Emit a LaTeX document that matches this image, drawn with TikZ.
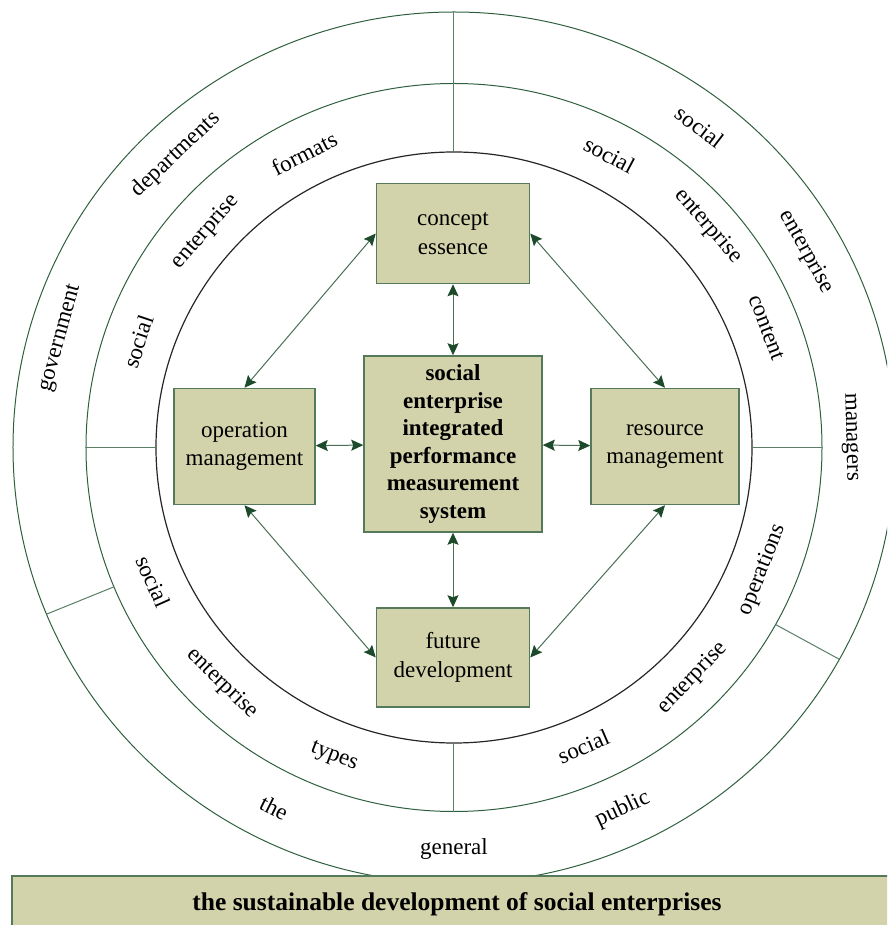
\documentclass[tikz,border=0pt]{standalone}
\usepackage{fontspec}
\setmainfont{Liberation Serif}
\usepackage{tikz}
\usetikzlibrary{arrows.meta}
\usepackage{xcolor}

\definecolor{boxfill}{HTML}{D2D3AB}
\definecolor{boxline}{HTML}{557A5B}
\definecolor{ringgreen}{HTML}{2F5F3F}
\definecolor{arrowgreen}{HTML}{1C4A2A}

\begin{document}
\begin{tikzpicture}[
    x=1pt, y=1pt,
    >={Stealth[length=12pt, width=11pt, inset=2pt, color=arrowgreen]},
    box/.style={draw=boxline, line width=1.5pt, fill=boxfill, inner sep=0pt, align=center, font=\fontsize{23}{28.5}\selectfont},
    corebox/.style={box, font=\fontsize{23}{27.6}\selectfont\bfseries},
    ring/.style={draw=ringgreen, line width=1pt},
    innerring/.style={draw=black!85, line width=1.2pt},
    divider/.style={draw=ringgreen!80, line width=1pt},
    word/.style={inner sep=0pt, font=\fontsize{23}{28}\selectfont},
    arrow/.style={<->, draw=arrowgreen!80, line width=1pt}
]
\useasboundingbox (-454,-477.5) rectangle (433,447.5);
\clip (-454,-477.5) rectangle (433,447.5);

% rings
\draw[ring] (0,0) ellipse [x radius=441, y radius=435.5];
\draw[ring] (0,0) ellipse [x radius=368, y radius=364];
\draw[innerring] (0,0) ellipse [x radius=298, y radius=295.5];

% ring dividers
\draw[divider] (-0.5,435.5) -- (-0.5,295.5);
\draw[divider] (-0.5,-295.5) -- (-0.5,-364);
\draw[divider] (-368,0) -- (-298,0);
\draw[divider] (298,0) -- (368,0);
\draw[divider] (202.5:368 and 364) -- (202.5:441 and 435.5);
\draw[divider] (-29.1:368 and 364) -- (-29.1:441 and 435.5);

% outer ring words
\node[word, rotate=74.5] (gov) at (164.5:408) {government};
\node[word, rotate=43.5] (dep) at (133.5:404) {departments};
\node[word, rotate=-37.5] (os1) at (52.5:404) {social};
\node[word, rotate=-61] (oe1) at (29:403) {enterprise};
\node[word, rotate=-88.5] (mgr) at (1.5:396) {managers};
\node[word, rotate=-26.5] (the) at (243.5:403) {the};
\node[word] (gen) at (270:401) {general};
\node[word, rotate=25] (pub) at (295:399) {public};

% middle ring words
\node[word, rotate=71.5] (ms1) at (161.5:333) {social};
\node[word, rotate=49] (me1) at (139:329) {enterprise};
\node[word, rotate=27] (fmt) at (117:330) {formats};
\node[word, rotate=-28] (ms2) at (62:331) {social};
\node[word, rotate=-49] (me2) at (41:337) {enterprise};
\node[word, rotate=-69] (cnt) at (21:335) {content};
\node[word, rotate=68.4] (ops) at (-21.6:332) {operations};
\node[word, rotate=46] (me3) at (-44:332) {enterprise};
\node[word, rotate=23.4] (ms3) at (-66.6:326) {social};
\node[word, rotate=-21.2] (typ) at (248.8:332) {types};
\node[word, rotate=-44.5] (me4) at (225.5:331) {enterprise};
\node[word, rotate=-66] (ms4) at (204:329) {social};

% inner boxes
\node[box, minimum width=153pt, minimum height=100pt] (con) at (-1,214) {concept\\essence};
\node[box, minimum width=141pt, minimum height=116pt] (opm) at (-209.5,1) {operation\\management};
\node[corebox, minimum width=178pt, minimum height=176pt] (sys) at (-1,3.5) {social\\enterprise\\integrated\\performance\\measurement\\system};
\node[box, minimum width=148pt, minimum height=116pt] (res) at (211,1) {resource\\management};
\node[box, minimum width=153pt, minimum height=99pt] (fut) at (-1,-210) {future\\development};

\draw[arrow] (con) -- (sys);
\draw[arrow] (opm) -- (sys);
\draw[arrow] (sys) -- (res);
\draw[arrow] (sys) -- (fut);
\draw[arrow] (con.west) -- (opm.north);
\draw[arrow] (con.east) -- (res.north);
\draw[arrow] (opm.south) -- (fut.west);
\draw[arrow] (res.south) -- (fut.east);

% base bar
\node[draw=boxline, line width=1.5pt, fill=boxfill, minimum width=890pt, minimum height=57pt, inner sep=0pt,
      font=\fontsize{25.5}{30}\selectfont\bfseries] (bar) at (3,-457) {the sustainable development of social enterprises};
\end{tikzpicture}
\end{document}
